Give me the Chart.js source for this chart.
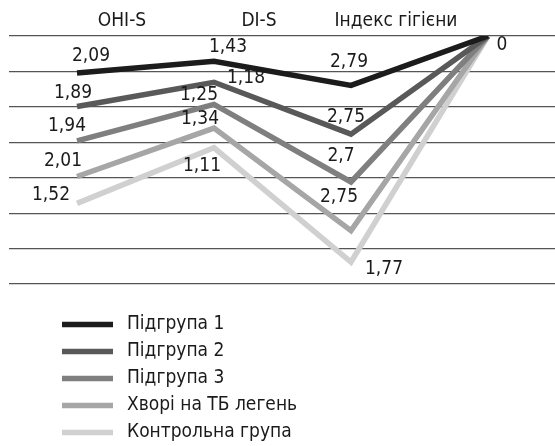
<!DOCTYPE html>
<html>
<head>
<meta charset="utf-8">
<script src="https://cdn.jsdelivr.net/npm/chart.js@4.4.1/dist/chart.umd.min.js"></script>
<style>
  html, body { margin: 0; padding: 0; background: #fff; overflow: hidden; }
  #wrap { width: 557px; height: 446px; }
</style>
</head>
<body>
<div id="wrap"><canvas id="c" width="557" height="446"></canvas></div>
<script>
// Hygiene indices per group (stacked line chart, values shown as labels)
const categories = ['OHI-S', 'DI-S', 'Індекс гігієни', ''];
const seriesNames = ['Підгрупа 1', 'Підгрупа 2', 'Підгрупа 3', 'Хворі на ТБ легень', 'Контрольна група'];
const subgroup1 = [2.09, 1.43, 2.79, 0];
const subgroup2 = [1.89, 1.18, 2.75, 0];
const subgroup3 = [1.94, 1.25, 2.7, 0];
const tbPatients = [2.01, 1.34, 2.75, 0];
const controlGroup = [1.52, 1.11, 1.77, 0];
const seriesValues = [subgroup1, subgroup2, subgroup3, tbPatients, controlGroup];

const lineColors = ['#1c1c1c', '#595959', '#7f7f7f', '#a6a6a6', '#d0d0d0'];
const FONT = 'DejaVu Sans Condensed, DejaVu Sans, sans-serif';
const TEXT = '#1a1a1a';

// Hand-placed label nudges (dx, dy from the point), null = no label
const labelNudge = [
  [[14, -17], [14, -14], [-2, -23], [14, 9]],
  [[-4, -13], [32, -4], [-5, -17], null],
  [[-10, -15], [-15, -9], [-10, -26], null],
  [[-14, -15], [-14, -9], [-12, -34], null],
  [[-26, -8], [-12, 18], [33, 7], null]
];

const valueLabels = {
  id: 'valueLabels',
  afterDatasetsDraw(chart) {
    const ctx = chart.ctx;
    ctx.save();
    ctx.font = '19px ' + FONT;
    ctx.fillStyle = TEXT;
    ctx.textAlign = 'center';
    ctx.textBaseline = 'middle';
    chart.data.datasets.forEach((ds, i) => {
      const meta = chart.getDatasetMeta(i);
      meta.data.forEach((pt, j) => {
        const n = labelNudge[i][j];
        if (!n) return;
        const txt = String(ds.data[j]).replace('.', ',');
        ctx.fillText(txt, pt.x + n[0], pt.y + n[1]);
      });
    });
    ctx.restore();
  }
};

const sideLegend = {
  id: 'sideLegend',
  afterDraw(chart, args, opts) {
    const ctx = chart.ctx;
    ctx.save();
    ctx.font = '19px ' + FONT;
    ctx.textBaseline = 'middle';
    ctx.textAlign = 'left';
    chart.data.datasets.forEach((ds, i) => {
      const y = opts.top + i * opts.step;
      ctx.strokeStyle = ds.borderColor;
      ctx.lineWidth = ds.borderWidth;
      ctx.lineCap = 'butt';
      ctx.beginPath();
      ctx.moveTo(opts.x0, y);
      ctx.lineTo(opts.x1, y);
      ctx.stroke();
      ctx.fillStyle = TEXT;
      ctx.fillText(ds.label, opts.textX, y);
    });
    ctx.restore();
  }
};

new Chart(document.getElementById('c'), {
  type: 'line',
  data: {
    labels: categories,
    datasets: seriesValues.map((vals, i) => ({
      label: seriesNames[i],
      data: vals,
      borderColor: lineColors[i],
      backgroundColor: lineColors[i],
      borderWidth: 5.5,
      pointRadius: 0,
      pointHoverRadius: 0,
      fill: false,
      tension: 0,
      borderCapStyle: 'butt',
      borderJoinStyle: 'miter'
    }))
  },
  options: {
    responsive: false,
    animation: false,
    layout: { padding: { left: 8.5, right: 0.5, top: 0, bottom: 162 } },
    plugins: {
      legend: { display: false },
      tooltip: { enabled: false },
      sideLegend: { x0: 62, x1: 113, textX: 127, top: 324.5, step: 27 }
    },
    scales: {
      x: {
        position: 'top',
        offset: true,
        grid: { display: false },
        border: { display: false },
        ticks: {
          labelOffset: 45,
          padding: -4,
          color: TEXT,
          font: { family: FONT, size: 19 },
          maxRotation: 0,
          autoSkip: false
        },
        afterFit(s) { s.height = 36; }
      },
      y: {
        stacked: true,
        reverse: true,
        min: 0,
        max: 14,
        ticks: { display: false, stepSize: 2 },
        grid: { color: '#555', lineWidth: 1.2, drawTicks: false },
        border: { display: false },
        afterFit(s) { s.width = 0; }
      }
    }
  },
  plugins: [valueLabels, sideLegend]
});
</script>
</body>
</html>
